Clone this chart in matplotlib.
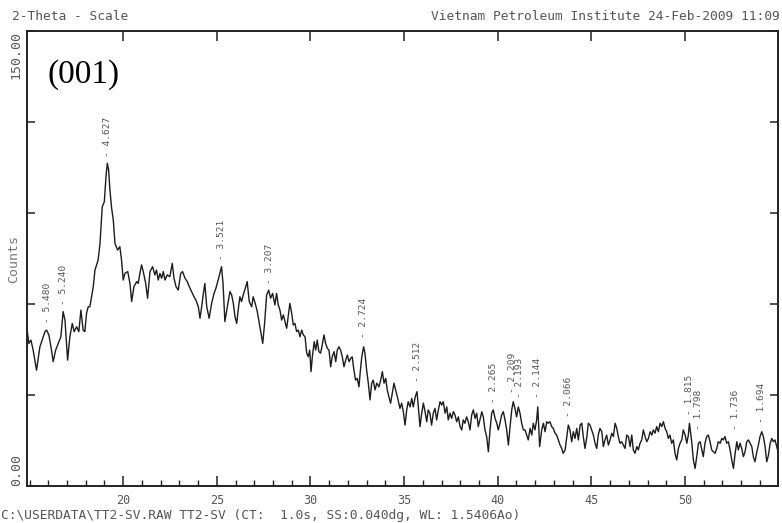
import matplotlib
matplotlib.use("Agg")
import matplotlib.pyplot as plt
from matplotlib.ticker import MultipleLocator, FixedLocator

# XRD scan (2-theta in degrees, intensity in counts)
two_theta = [
    14.88, 14.96, 15.07, 15.19, 15.37, 15.55, 15.67, 15.82, 15.91, 16.03,
    16.14, 16.26, 16.39, 16.53, 16.67, 16.79, 16.89, 17.03, 17.15, 17.28,
    17.38, 17.51, 17.63, 17.74, 17.86, 17.95, 18.04, 18.13, 18.22, 18.31,
    18.40, 18.49, 18.58, 18.66, 18.76, 18.88, 18.99, 19.08, 19.15, 19.22,
    19.29, 19.38, 19.47, 19.56, 19.70, 19.82, 19.91, 20.00, 20.09, 20.24,
    20.36, 20.45, 20.57, 20.72, 20.80, 20.89, 20.98, 21.07, 21.20, 21.30,
    21.43, 21.57, 21.69, 21.78, 21.87, 21.96, 22.05, 22.14, 22.23, 22.35,
    22.49, 22.62, 22.71, 22.82, 22.94, 23.07, 23.17, 23.30, 23.42, 23.53,
    23.65, 23.78, 23.88, 24.01, 24.10, 24.19, 24.27, 24.36, 24.46, 24.59,
    24.72, 24.85, 24.95, 25.07, 25.25, 25.33, 25.43, 25.56, 25.70, 25.79,
    25.88, 25.97, 26.06, 26.14, 26.23, 26.32, 26.41, 26.52, 26.62, 26.73,
    26.86, 26.94, 27.05, 27.16, 27.30, 27.45, 27.55, 27.66, 27.77, 27.87,
    27.98, 28.10, 28.19, 28.28, 28.37, 28.46, 28.55, 28.64, 28.73, 28.81,
    28.90, 29.00, 29.08, 29.17, 29.26, 29.35, 29.44, 29.53, 29.62, 29.71,
    29.80, 29.88, 29.96, 30.03, 30.10, 30.20, 30.28, 30.36, 30.45, 30.54,
    30.63, 30.72, 30.81, 30.90, 30.99, 31.08, 31.16, 31.26, 31.35, 31.43,
    31.52, 31.61, 31.70, 31.79, 31.88, 31.97, 32.06, 32.15, 32.23, 32.32,
    32.41, 32.50, 32.59, 32.66, 32.74, 32.84, 32.91, 33.00, 33.09, 33.18,
    33.27, 33.35, 33.45, 33.54, 33.66, 33.77, 33.84, 33.93, 34.02, 34.10,
    34.19, 34.28, 34.37, 34.46, 34.55, 34.66, 34.78, 34.87, 34.96, 35.05,
    35.14, 35.22, 35.32, 35.41, 35.49, 35.60, 35.69, 35.76, 35.85, 35.94,
    36.03, 36.12, 36.21, 36.29, 36.38, 36.47, 36.56, 36.65, 36.74, 36.83,
    36.92, 37.01, 37.09, 37.19, 37.28, 37.36, 37.45, 37.54, 37.63, 37.72,
    37.81, 37.90, 37.99, 38.08, 38.16, 38.25, 38.34, 38.43, 38.52, 38.61,
    38.70, 38.79, 38.88, 38.96, 39.05, 39.15, 39.23, 39.32, 39.41, 39.50,
    39.59, 39.68, 39.76, 39.86, 39.95, 40.03, 40.12, 40.21, 40.30, 40.39,
    40.48, 40.57, 40.66, 40.75, 40.83, 40.92, 41.01, 41.10, 41.19, 41.28,
    41.37, 41.46, 41.55, 41.63, 41.73, 41.82, 41.90, 41.99, 42.08, 42.14,
    42.24, 42.35, 42.44, 42.53, 42.62, 42.70, 42.79, 42.88, 42.97, 43.06,
    43.15, 43.24, 43.33, 43.42, 43.50, 43.60, 43.69, 43.77, 43.86, 43.95,
    44.04, 44.13, 44.22, 44.31, 44.40, 44.49, 44.57, 44.66, 44.75, 44.84,
    44.93, 45.02, 45.11, 45.20, 45.29, 45.37, 45.46, 45.56, 45.64, 45.73,
    45.82, 45.91, 46.00, 46.09, 46.18, 46.27, 46.36, 46.44, 46.53, 46.62,
    46.71, 46.80, 46.89, 46.98, 47.07, 47.16, 47.24, 47.33, 47.43, 47.51,
    47.60, 47.69, 47.78, 47.87, 47.96, 48.05, 48.14, 48.23, 48.31, 48.40,
    48.49, 48.58, 48.67, 48.76, 48.85, 48.94, 49.03, 49.11, 49.20, 49.29,
    49.38, 49.47, 49.56, 49.65, 49.74, 49.83, 49.91, 50.01, 50.10, 50.18,
    50.24, 50.36, 50.45, 50.54, 50.63, 50.72, 50.81, 50.90, 50.98, 51.07,
    51.16, 51.25, 51.34, 51.43, 51.52, 51.61, 51.70, 51.78, 51.88, 51.97,
    52.05, 52.14, 52.23, 52.32, 52.41, 52.50, 52.59, 52.68, 52.77, 52.85,
    52.94, 53.03, 53.12, 53.21, 53.30, 53.39, 53.48, 53.57, 53.65, 53.74,
    53.84, 53.92, 54.01, 54.10, 54.19, 54.28, 54.37, 54.46, 54.55, 54.64,
    54.72, 54.81, 54.90, 54.99,
]
counts = [
    50.9, 47.0, 48.1, 44.8, 38.2, 45.9, 48.1, 50.9, 51.4, 49.8,
    45.9, 41.0, 44.8, 47.0, 49.2, 57.5, 54.7, 41.5, 49.2, 53.6,
    50.9, 52.5, 50.9, 58.0, 51.4, 50.9, 56.9, 59.1, 59.1, 62.4,
    65.7, 71.2, 72.9, 74.5, 80.0, 92.1, 93.7, 102.0, 106.4, 104.2,
    97.6, 91.6, 87.7, 80.0, 77.8, 78.9, 74.5, 67.9, 70.1, 70.7,
    66.8, 60.8, 65.7, 67.4, 66.8, 70.1, 72.9, 70.7, 66.8, 61.9,
    70.7, 72.3, 69.6, 71.2, 67.9, 70.1, 68.5, 70.7, 67.9, 69.6,
    69.0, 73.4, 68.5, 65.7, 64.6, 70.1, 70.7, 68.5, 67.4, 65.7,
    64.1, 62.4, 61.3, 59.1, 55.3, 59.1, 63.0, 66.8, 59.1, 55.3,
    60.2, 63.5, 65.2, 67.9, 72.3, 66.8, 54.2, 59.1, 64.1, 63.0,
    60.2, 55.8, 53.6, 58.0, 62.4, 60.8, 63.0, 65.2, 67.4, 60.8,
    59.1, 62.4, 60.2, 57.5, 52.5, 47.0, 53.6, 63.0, 64.6, 61.9,
    63.5, 59.7, 63.5, 59.7, 58.0, 54.7, 56.4, 54.2, 52.0, 55.8,
    60.2, 56.9, 53.1, 53.6, 50.9, 51.4, 49.2, 51.4, 49.8, 49.2,
    43.8, 42.6, 44.8, 37.7, 42.6, 47.6, 44.8, 48.1, 44.3, 43.8,
    46.5, 49.8, 47.0, 45.4, 44.8, 39.3, 42.6, 44.3, 41.0, 44.8,
    45.9, 44.8, 42.6, 39.3, 41.5, 43.2, 41.0, 42.1, 42.6, 38.2,
    34.9, 35.5, 32.7, 37.7, 42.6, 45.9, 43.8, 38.2, 33.9, 28.4,
    33.9, 34.9, 31.7, 33.9, 32.7, 35.5, 37.7, 33.9, 35.5, 31.7,
    29.4, 27.3, 30.6, 33.9, 31.7, 28.9, 25.6, 27.3, 24.5, 20.1,
    25.1, 27.8, 26.1, 28.9, 26.1, 29.5, 31.1, 26.1, 19.6, 24.0,
    27.3, 24.5, 21.2, 25.1, 24.0, 20.1, 24.0, 25.6, 21.8, 25.1,
    27.8, 26.7, 27.8, 24.0, 26.1, 21.8, 24.0, 22.3, 24.5, 23.4,
    21.2, 22.8, 19.6, 18.5, 21.8, 20.7, 22.8, 21.2, 18.5, 23.4,
    25.1, 22.3, 24.0, 19.6, 21.8, 24.5, 22.8, 18.5, 16.3, 11.3,
    18.5, 24.0, 25.1, 22.3, 20.7, 18.5, 20.7, 23.4, 24.5, 21.8,
    18.5, 13.5, 19.6, 25.1, 27.8, 25.6, 22.8, 26.1, 24.0, 20.7,
    18.5, 18.5, 16.8, 15.2, 19.0, 16.8, 20.7, 18.5, 21.8, 26.1,
    13.0, 18.5, 20.7, 17.9, 21.2, 20.7, 21.2, 19.6, 19.0, 17.4,
    16.8, 15.2, 13.5, 12.4, 10.8, 11.9, 16.3, 20.1, 18.5, 14.6,
    17.9, 15.7, 19.0, 15.2, 20.1, 20.7, 16.3, 12.4, 15.7, 20.7,
    20.1, 18.5, 16.8, 14.1, 12.4, 16.8, 19.0, 17.9, 13.0, 15.2,
    16.8, 13.5, 15.2, 17.4, 16.3, 20.7, 19.0, 16.3, 14.1, 14.6,
    13.5, 12.4, 16.8, 16.3, 13.0, 16.8, 11.9, 10.8, 13.0, 11.9,
    14.1, 15.2, 18.5, 16.3, 14.6, 15.7, 17.9, 16.8, 18.5, 17.4,
    19.6, 17.9, 20.7, 19.6, 21.2, 19.0, 17.9, 15.7, 16.8, 14.1,
    15.2, 10.8, 8.6, 12.4, 14.1, 15.2, 18.5, 16.8, 14.1, 16.8,
    20.7, 14.6, 8.6, 5.8, 9.7, 14.1, 14.6, 11.9, 9.7, 14.1,
    16.3, 16.8, 14.6, 11.9, 11.3, 10.8, 12.4, 14.6, 14.1, 15.7,
    15.2, 16.3, 14.1, 14.6, 11.9, 8.6, 5.8, 10.8, 14.6, 11.9,
    14.1, 12.4, 9.7, 11.3, 14.6, 15.2, 14.1, 13.0, 9.7, 8.0,
    11.3, 13.5, 16.3, 17.9, 16.3, 13.0, 8.0, 10.2, 14.1, 15.7,
    14.6, 15.2, 13.0, 10.8,
]

# d-spacing labels printed above the picked peaks
peak_pos = [15.98, 16.80, 19.17, 25.27, 27.80, 32.85, 35.71, 39.76,
            40.78, 41.16, 42.11, 43.78, 50.22, 50.73, 52.68, 54.09]
peak_text = ["5.480", "5.240", "4.627", "3.521", "3.207", "2.724", "2.512", "2.265",
             "2.209", "2.193", "2.144", "2.066", "1.815", "1.798", "1.736", "1.694"]
peak_base = [53.7, 59.7, 108.5, 74.5, 66.5, 48.8, 34.3, 27.4,
             30.7, 29.0, 29.0, 22.7, 23.4, 18.5, 18.5, 20.8]

x_ticks = [20, 25, 30, 35, 40, 45, 50]

mono = "DejaVu Sans Mono"
grey = "#555555"

fig = plt.figure(figsize=(7.82, 5.23), dpi=100)
ax = fig.add_axes([0.0345, 0.0707, 0.9604, 0.870])

ax.plot(two_theta, counts, color="#1c1c1c", lw=1.0)

ax.set_xlim(14.86, 54.97)
ax.set_ylim(0, 150)

for pos, txt, base in zip(peak_pos, peak_text, peak_base):
    ax.text(pos, base, "- " + txt, rotation=90, ha="center", va="bottom",
            family=mono, fontsize=6.8, color=grey)

# axes frame and ticks
for sp in ax.spines.values():
    sp.set_linewidth(1.4)
    sp.set_color("#222222")

ax.xaxis.set_major_locator(FixedLocator(x_ticks))
ax.xaxis.set_minor_locator(MultipleLocator(1))
ax.set_yticks([0, 30, 60, 90, 120, 150])
ax.set_yticklabels(["0.00", "", "", "", "", "150.00"])
ax.tick_params(axis="both", which="major", direction="in", top=True, right=True,
               length=7, width=1.1, color="#222222")
ax.tick_params(axis="x", which="minor", direction="in", top=False,
               length=4, width=1.0, color="#222222")
ax.tick_params(axis="y", which="major", length=6, pad=3)
ax.tick_params(axis="x", which="major", pad=6)

for lab in ax.get_xticklabels():
    lab.set_family(mono)
    lab.set_fontsize(8.5)
    lab.set_color(grey)
ylabs = ax.get_yticklabels()
for lab in ylabs:
    lab.set_family(mono)
    lab.set_fontsize(9.5)
    lab.set_color(grey)
    lab.set_rotation(90)
ylabs[0].set_va("bottom")
ylabs[-1].set_va("top")

ax.set_ylabel("Counts", family=mono, fontsize=9.5, color="#777777")
ax.yaxis.set_label_coords(-0.0095, 0.5)

ax.text(0.027, 0.905, "(001)", transform=ax.transAxes, family="Liberation Serif",
        fontsize=24, color="black", va="center", ha="left")

# print header and footer
fig.text(12 / 782, 1 - 17 / 523, "2-Theta - Scale", family=mono, fontsize=9.3,
         color=grey, va="center", ha="left")
fig.text(780 / 782, 1 - 17 / 523, "Vietnam Petroleum Institute 24-Feb-2009 11:09",
         family=mono, fontsize=9.3, color=grey, va="center", ha="right")
fig.text(1 / 782, 1 - 515 / 523,
         "C:\\USERDATA\\TT2-SV.RAW TT2-SV (CT:  1.0s, SS:0.040dg, WL: 1.5406Ao)",
         family=mono, fontsize=9.3, color=grey, va="center", ha="left")

fig.savefig("out.png", dpi=100)
